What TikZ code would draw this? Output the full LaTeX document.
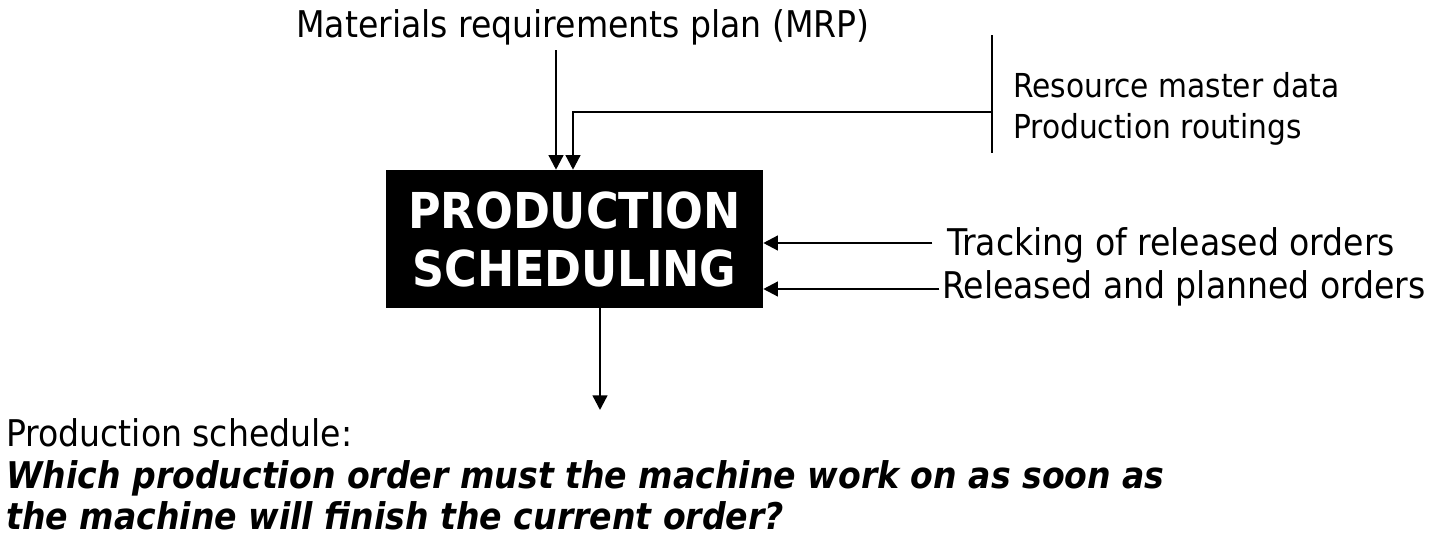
\documentclass[tikz,border=0pt]{standalone}
\usepackage{fontspec}
\setmainfont{DejaVu Sans Condensed}
\usetikzlibrary{arrows.meta,positioning}

\begin{document}
\begin{tikzpicture}[x=0.75pt,y=-0.75pt,
  flecha/.style={-{Triangle[length=11pt,width=11pt]},line width=1.75pt},
  texto/.style={font=\fontsize{27.6}{33}\selectfont,inner sep=0pt,anchor=base west},
  chico/.style={texto,font=\fontsize{24.75}{30}\selectfont},
  pregunta/.style={texto,font=\fontsize{27.6}{33}\selectfont\bfseries\itshape},
  caja/.style={fill=black,text=white,align=center,inner sep=0pt,
    minimum width=282.75pt,minimum height=103.5pt,
    font=\fontsize{37.1}{43.5}\selectfont\bfseries}]
  \useasboundingbox (0,0) rectangle (1441,539);

  % Caja central
  \node[caja] (sched) at (574.5,239) {PRODUCTION\\SCHEDULING};

  % Entradas
  \node[texto,anchor=base] (mrp) at (583,37) {Materials requirements plan (MRP)};
  \node[chico] (res) at (1013,97) {Resource master data};
  \node[chico] (rout) at (1013,138) {Production routings};
  \node[texto] (track) at (947,255) {Tracking of released orders};
  \node[texto] (rel) at (942,298) {Released and planned orders};

  \coordinate (barTop) at (992,35);
  \coordinate (barBot) at (992,153);
  \coordinate (barMid) at (992,112);
  \draw[line width=1.75pt] (barTop) -- (barBot);

  \draw[flecha] (556,50) -- (sched.north -| 556,0);
  \draw[flecha] (barMid) -| (sched.north -| 573,0);
  \draw[flecha] ([xshift=-11pt]track.west |- 0,243) -- (sched.east |- 0,243);
  \draw[flecha] ([xshift=-2pt]rel.west |- 0,289) -- (sched.east |- 0,289);

  % Salida
  \coordinate (out) at (600,410);
  \draw[flecha] (sched.south -| out) -- (out);
  \node[texto] (sal) at (6,446) {Production schedule:};
  \node[pregunta] (preg1) at (6,488)
    {Which production order must the machine work on as soon as};
  \node[pregunta] (preg2) at (6,529)
    {the machine will finish the current order?};
\end{tikzpicture}
\end{document}
